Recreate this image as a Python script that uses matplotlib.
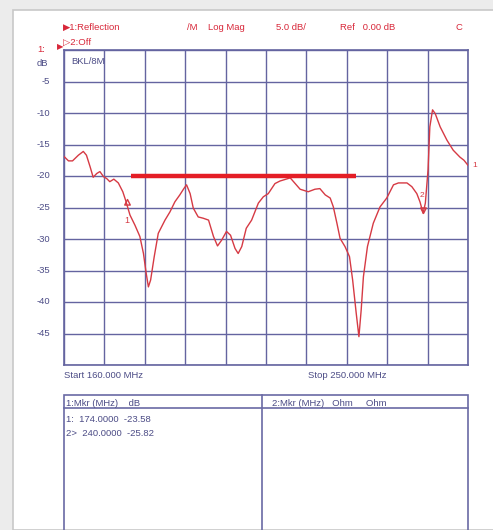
import matplotlib
matplotlib.use("Agg")
import matplotlib.pyplot as plt
from matplotlib.path import Path
from matplotlib.patches import Rectangle
from matplotlib.lines import Line2D

plt.rcParams['font.family'] = ['Liberation Sans', 'DejaVu Sans']

# trace: frequency (MHz) vs reflection (dB)
freq = [160.0, 161.0, 161.9, 163.2, 164.3, 165.0, 165.8, 166.5, 167.3, 168.0,
        168.8, 169.5, 170.2, 171.1, 172.1, 173.1, 173.7, 174.7, 175.8, 176.9,
        177.7, 178.3, 178.8, 179.3, 180.1, 181.0, 182.5, 183.6, 184.7, 185.8,
        186.7, 187.3, 188.1, 188.8, 189.9, 191.0, 192.2, 193.3, 194.2, 195.1,
        196.2, 197.1, 198.1, 198.8, 199.6, 200.6, 201.8, 203.3, 204.4, 205.5,
        207.0, 208.1, 210.4, 211.5, 212.6, 214.4, 215.9, 217.0, 218.2, 219.3,
        220.0, 220.8, 221.5, 222.6, 223.6, 224.3, 225.1, 225.7, 226.2, 226.7,
        227.6, 228.9, 230.4, 231.9, 233.4, 234.5, 236.4, 237.5, 238.6, 239.3,
        240.0, 240.5, 241.1, 241.5, 242.1, 242.7, 243.8, 245.3, 246.7, 248.2,
        249.1, 250.0]
db = [-16.9, -17.6, -17.6, -16.7, -16.1, -16.7, -18.5, -20.2, -19.6, -19.3,
      -20.1, -20.4, -20.9, -20.5, -21.1, -22.5, -23.8, -26.2, -27.8, -29.6,
      -32.3, -35.4, -37.6, -36.5, -32.8, -29.1, -27.0, -25.7, -24.1, -23.0,
      -22.0, -21.4, -22.8, -25.1, -26.5, -26.7, -27.0, -29.6, -31.1, -30.2,
      -28.8, -29.4, -31.5, -32.3, -31.2, -28.3, -27.0, -24.3, -23.3, -22.8,
      -21.2, -20.8, -20.3, -21.2, -22.1, -22.5, -22.1, -22.0, -23.0, -23.5,
      -24.9, -27.5, -29.9, -31.2, -32.8, -36.5, -41.8, -45.5, -41.3, -36.0,
      -31.2, -27.5, -24.9, -23.5, -21.4, -21.1, -21.1, -21.7, -22.8, -24.1,
      -25.9, -24.3, -19.0, -12.2, -9.5, -10.1, -12.2, -14.3, -15.9, -17.0,
      -17.5, -18.3]

# limit line
limit_freq = [175.0, 225.0]
limit_db = [-20.0, -20.0]

# markers
mkr_freq = [174.0, 240.0]
mkr_db = [-23.58, -25.82]

yticks = [-5, -10, -15, -20, -25, -30, -35, -40, -45]
f_start, f_stop = 160.0, 250.0
ref_db, scale_db = 0.0, 5.0

W, H = 493, 530
RED = '#d8283a'
TRACE = '#d63a44'
NAVY = '#4c4c86'
GRID = '#6464a0'

fig = plt.figure(figsize=(W / 100, H / 100), dpi=100)
fig.patch.set_facecolor('#ececec')


def fx(px):
    return px / W


def fy(py):
    return 1 - py / H


# white sheet
fig.patches.append(Rectangle((fx(13), 0), fx(W + 10) - fx(13), fy(10), transform=fig.transFigure,
                             facecolor='white', edgecolor='#c8c8c8', lw=1.2, zorder=-5))

ax = fig.add_axes([fx(64), fy(365), fx(468) - fx(64), fy(50) - fy(365)])
ax.set_zorder(2)
ax.set_xlim(f_start, f_stop)
ax.set_ylim(ref_db - 10 * scale_db, ref_db)
ax.set_xticks([f_start + i * (f_stop - f_start) / 10 for i in range(11)])
ax.set_yticks([ref_db - i * scale_db for i in range(11)])
ax.grid(True, color=GRID, lw=1.0)
ax.tick_params(length=0, labelbottom=False, labelleft=False)
for s in ax.spines.values():
    s.set_color(GRID)
    s.set_linewidth(1.2)

ax.plot(freq, db, color=TRACE, lw=1.0, zorder=3)
ax.plot(limit_freq, limit_db, color='#e41e26', lw=3.2, solid_capstyle='butt', zorder=4)

up = Path([(0, 0), (-0.6, -1.2), (0.6, -1.2), (0, 0)], [1, 2, 2, 79])
down = Path([(0, 0), (-0.6, 1.2), (0.6, 1.2), (0, 0)], [1, 2, 2, 79])
ax.plot(mkr_freq[0], mkr_db[0], marker=up, ms=8, mfc='none', mec=TRACE, mew=1, zorder=5)
ax.annotate('1', (mkr_freq[0], mkr_db[0]), xytext=(0, -16), textcoords='offset points',
            ha='center', va='center', fontsize=6.5, color=TRACE)
ax.plot(mkr_freq[1], mkr_db[1], marker=down, ms=8, mfc='none', mec=TRACE, mew=1, zorder=5)
ax.annotate('2', (mkr_freq[1], mkr_db[1]), xytext=(-1, 12), textcoords='offset points',
            ha='center', va='center', fontsize=6, color=TRACE)
ax.annotate('1', (freq[-1], db[-1]), xytext=(3, 0), textcoords='offset points',
            ha='left', va='center', fontsize=6, color=TRACE, annotation_clip=False)

fs = 6.8
for v in yticks:
    fig.text(fx(50), fy(50 + (ref_db - v) / scale_db * 31.5), str(v), ha='right',
             va='center', fontsize=fs, color=NAVY)
fig.text(fx(71), fy(62), 'BKL/8M', fontsize=fs, color=NAVY, va='center', zorder=5)

# header
fig.text(fx(63), fy(27), '\u25b61:Reflection', fontsize=fs, color=RED, va='center')
fig.text(fx(187), fy(27), '/M    Log Mag', fontsize=fs, color=RED, va='center')
fig.text(fx(276), fy(27), '5.0 dB/', fontsize=fs, color=RED, va='center')
fig.text(fx(340), fy(27), 'Ref   0.00 dB', fontsize=fs, color=RED, va='center')
fig.text(fx(455), fy(27), 'C', fontsize=fs, color=RED, va='center')
fig.text(fx(63), fy(42), '\u25b72:Off', fontsize=fs, color=RED, va='center')
fig.text(fx(37), fy(49), '1:', fontsize=fs, color=RED, va='center')
fig.text(fx(57), fy(48), '\u25b6', fontsize=6, color=RED, va='center')
fig.text(fx(37), fy(63), 'dB', fontsize=fs, color=NAVY, va='center')

fig.text(fx(64), fy(376), 'Start 160.000 MHz', fontsize=fs, color=NAVY, va='center')
fig.text(fx(308), fy(376), 'Stop 250.000 MHz', fontsize=fs, color=NAVY, va='center')

# marker table
tcol = '#6a6aa4'
fig.patches.append(Rectangle((fx(64), fy(540)), fx(468) - fx(64), fy(395) - fy(540),
                             transform=fig.transFigure, facecolor='none', edgecolor=tcol, lw=1.2))
fig.lines.append(Line2D([fx(64), fx(468)], [fy(408), fy(408)], transform=fig.transFigure,
                        color=tcol, lw=1.2))
fig.lines.append(Line2D([fx(262), fx(262)], [fy(395), fy(540)], transform=fig.transFigure,
                        color=tcol, lw=1.2))
fig.text(fx(66), fy(403), '1:Mkr (MHz)    dB', fontsize=fs, color=NAVY, va='center')
fig.text(fx(272), fy(403), '2:Mkr (MHz)   Ohm     Ohm', fontsize=fs, color=NAVY, va='center')
for i, (f, d) in enumerate(zip(mkr_freq, mkr_db)):
    tag = '1:' if i == 0 else '2>'
    fig.text(fx(66), fy(419 + 14 * i), f'{tag}  {f:.4f}  {d:.2f}', fontsize=fs,
             color=NAVY, va='center')

fig.savefig('out.png', dpi=100)
